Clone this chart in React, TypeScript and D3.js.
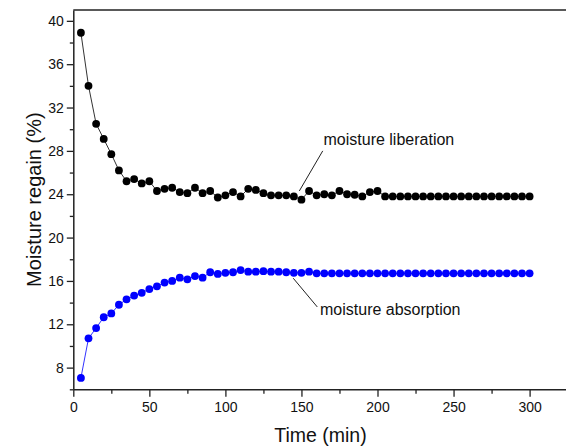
import React, { useEffect, useRef } from 'react';
import * as d3 from 'd3';

// time in minutes
const time = [
  5, 10, 15, 20, 25, 30, 35, 40, 45, 50, 55, 60, 65, 70, 75, 80, 85, 90, 95, 100,
  105, 110, 115, 120, 125, 130, 135, 140, 145, 150, 155, 160, 165, 170, 175, 180, 185, 190, 195, 200,
  205, 210, 215, 220, 225, 230, 235, 240, 245, 250, 255, 260, 265, 270, 275, 280, 285, 290, 295, 300
];

const liberation = [
  38.9, 34.0, 30.5, 29.1, 27.7, 26.2, 25.2, 25.4, 25.0, 25.2, 24.3, 24.5, 24.6, 24.2, 24.1, 24.6, 24.1, 24.3, 23.7, 23.9,
  24.2, 23.8, 24.5, 24.4, 24.1, 23.9, 23.9, 23.9, 23.8, 23.5, 24.3, 23.9, 24.0, 23.9, 24.3, 24.0, 23.95, 23.8, 24.2, 24.3,
  23.8, 23.8, 23.8, 23.8, 23.8, 23.8, 23.8, 23.8, 23.8, 23.8, 23.8, 23.8, 23.8, 23.8, 23.8, 23.8, 23.8, 23.8, 23.8, 23.8
];

const absorption = [
  7.05, 10.7, 11.65, 12.65, 13.0, 13.8, 14.3, 14.65, 14.9, 15.25, 15.5, 15.85, 16.0, 16.3, 16.15, 16.45, 16.3, 16.8, 16.65, 16.75,
  16.8, 17.0, 16.85, 16.85, 16.9, 16.85, 16.85, 16.8, 16.75, 16.75, 16.85, 16.7, 16.7, 16.7, 16.7, 16.7, 16.7, 16.7, 16.7, 16.7,
  16.7, 16.7, 16.7, 16.7, 16.7, 16.7, 16.7, 16.7, 16.7, 16.7, 16.7, 16.7, 16.7, 16.7, 16.7, 16.7, 16.7, 16.7, 16.7, 16.7
];

const xTicks = [0, 50, 100, 150, 200, 250, 300];
const yTicks = [8, 12, 16, 20, 24, 28, 32, 36, 40];

const width = 566;
const height = 447;
const left = 73.3;
const top = 10;
const bottom = 389.3;
const font = '"Liberation Sans", Arial, sans-serif';

export default function App() {
  const svgRef = useRef<SVGSVGElement>(null);

  useEffect(() => {
    const svg = d3.select(svgRef.current);
    svg.selectAll('*').remove();

    const x = d3.scaleLinear().domain([0, 325]).range([left, left + 325 * 1.521]);
    const y = d3.scaleLinear().domain([6, 41]).range([bottom, top]);

    const line = d3.line<number>()
      .x((d, i) => x(time[i]))
      .y(d => y(d));

    const series = [
      { values: liberation, dot: '#000000', stroke: '#333333' },
      { values: absorption, dot: '#0000ff', stroke: '#3333ff' }
    ];

    series.forEach(s => {
      svg.append('path')
        .datum(s.values)
        .attr('fill', 'none')
        .attr('stroke', s.stroke)
        .attr('stroke-width', 1)
        .attr('d', line);
      svg.append('g')
        .selectAll('circle')
        .data(s.values)
        .join('circle')
          .attr('cx', (d, i) => x(time[i]))
          .attr('cy', d => y(d))
          .attr('r', 3.9)
          .attr('fill', s.dot);
    });

    // frame (top + left/bottom from axes)
    svg.append('line')
      .attr('x1', left).attr('x2', x(325))
      .attr('y1', top).attr('y2', top)
      .attr('stroke', '#222').attr('stroke-width', 1.5);

    // minor ticks
    const xAxisMinor = d3.axisBottom(x).tickValues(d3.range(25, 325, 50)).tickSize(4.5).tickFormat(() => '');
    const yAxisMinor = d3.axisLeft(y).tickValues(d3.range(6, 41, 4)).tickSize(3.5).tickFormat(() => '');

    const gxm = svg.append('g').attr('transform', `translate(0, ${bottom})`).call(xAxisMinor);
    const gym = svg.append('g').attr('transform', `translate(${left}, 0)`).call(yAxisMinor);

    const gx = svg.append('g')
      .attr('transform', `translate(0, ${bottom})`)
      .call(d3.axisBottom(x).tickValues(xTicks).tickSize(7.5).tickPadding(5).tickSizeOuter(0));
    const gy = svg.append('g')
      .attr('transform', `translate(${left}, 0)`)
      .call(d3.axisLeft(y).tickValues(yTicks).tickSize(6.5).tickPadding(3).tickSizeOuter(0));

    [gxm, gym].forEach(g => g.select('.domain').remove());
    [gx, gy, gxm, gym].forEach(g => {
      g.selectAll('line').attr('stroke', '#222').attr('stroke-width', 1.3);
      g.select('.domain').attr('stroke', '#222').attr('stroke-width', 1.5);
      g.selectAll('text').attr('fill', '#111').attr('font-size', 14).attr('font-family', font);
    });

    // axis titles
    svg.append('text')
      .attr('x', (left + x(325)) / 2)
      .attr('y', 442)
      .attr('text-anchor', 'middle')
      .attr('font-family', font)
      .attr('font-size', 19.5)
      .attr('fill', '#111')
      .text('Time (min)');

    svg.append('text')
      .attr('transform', `translate(41, ${(top + bottom) / 2}) rotate(-90)`)
      .attr('text-anchor', 'middle')
      .attr('font-family', font)
      .attr('font-size', 20)
      .attr('fill', '#111')
      .text('Moisture regain (%)');

    // annotations
    const notes = [
      { text: 'moisture liberation', lx1: 164, ly1: 28.0, lx2: 148.6, ly2: 24.3, tx: 164.5, ty: 28.55 },
      { text: 'moisture absorption', lx1: 144.6, ly1: 16.25, lx2: 160.4, ly2: 13.6, tx: 162.2, ty: 12.85 }
    ];
    notes.forEach(n => {
      svg.append('line')
        .attr('x1', x(n.lx1)).attr('y1', y(n.ly1))
        .attr('x2', x(n.lx2)).attr('y2', y(n.ly2))
        .attr('stroke', '#222').attr('stroke-width', 1);
      svg.append('text')
        .attr('x', x(n.tx)).attr('y', y(n.ty))
        .attr('font-family', font)
        .attr('font-size', 16)
        .attr('fill', '#111')
        .text(n.text);
    });
  }, []);

  return (
    <svg
      ref={svgRef}
      width={width}
      height={height}
      style={{ position: 'absolute', left: 0, top: 0, background: '#fff' }}
    />
  );
}
